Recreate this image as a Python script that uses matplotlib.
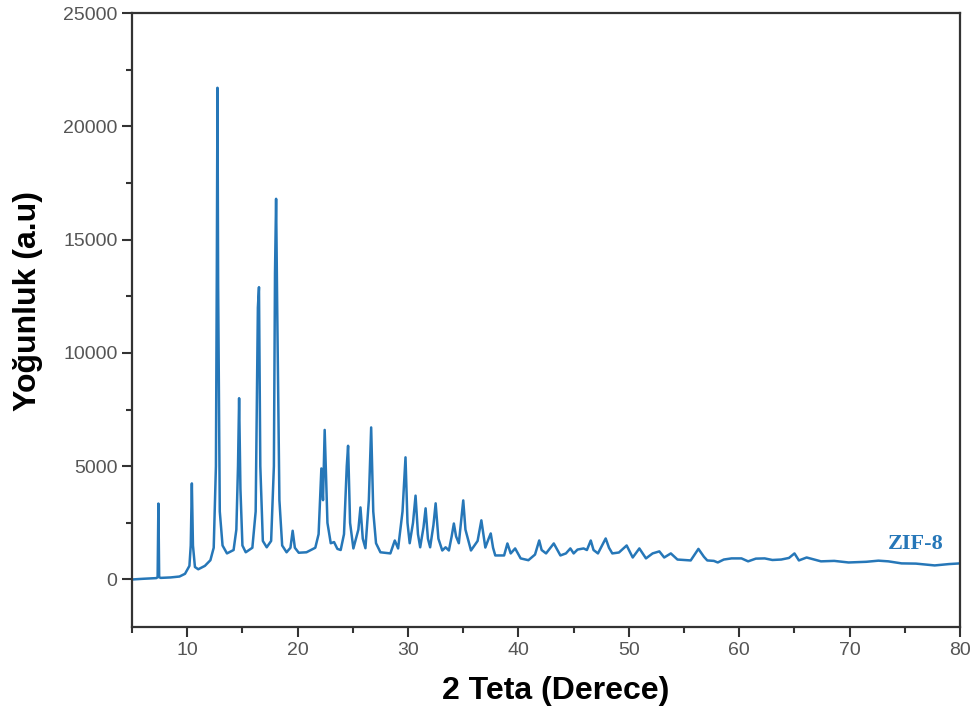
import matplotlib
matplotlib.use("Agg")
import matplotlib.pyplot as plt
from matplotlib.ticker import MultipleLocator

# XRD verisi (ZIF-8), grafikten okunan noktalar
two_theta = [5.0, 6.0, 7.2, 7.32, 7.39, 7.46, 7.6, 8.5, 9.3, 9.8, 10.2, 10.32, 10.42, 10.52, 10.7,
             11.0, 11.6, 12.1, 12.4, 12.6, 12.68, 12.74, 12.80, 12.95, 13.2, 13.6, 14.2, 14.45, 14.6,
             14.7, 14.82, 15.0, 15.3, 15.9, 16.2, 16.4, 16.5, 16.62, 16.85, 17.2, 17.6, 17.85, 17.95,
             18.05, 18.15, 18.35, 18.6, 19.0, 19.35, 19.55, 19.75, 20.1, 20.8, 21.6, 21.9, 22.15, 22.3,
             22.45, 22.7, 23.0, 23.3, 23.6, 23.9, 24.2, 24.45, 24.57, 24.75, 25.05, 25.5, 25.69, 25.9,
             26.14, 26.45, 26.66, 26.85, 27.1, 27.5, 28.4, 28.8, 29.1, 29.5, 29.77, 29.95, 30.15, 30.45,
             30.68, 30.9, 31.1, 31.4, 31.59, 31.8, 32.0, 32.3, 32.5, 32.75, 33.1, 33.4, 33.7, 33.95,
             34.15, 34.35, 34.6, 34.85, 35.0, 35.2, 35.7, 36.3, 36.64, 36.85, 37.0, 37.3, 37.49, 37.7,
             37.9, 38.7, 39.0, 39.3, 39.7, 40.2, 40.9, 41.5, 41.88, 42.1, 42.5, 43.2, 43.8, 44.3, 44.7,
             45.0, 45.35, 45.9, 46.2, 46.55, 46.8, 47.2, 47.9, 48.2, 48.5, 49.1, 49.8, 50.35, 50.95,
             51.55, 52.15, 52.76, 53.2, 53.8, 54.4, 55.6, 56.3, 56.8, 57.1, 57.7, 58.05, 58.6, 59.3,
             60.2, 60.8, 61.5, 62.3, 63.0, 63.8, 64.5, 65.0, 65.4, 66.1, 67.4, 68.6, 69.9, 71.5, 72.6,
             73.5, 74.7, 76.0, 77.7, 79.0, 80.0]
intensity = [0, 30, 60, 100, 3350, 100, 70, 90, 130, 250, 600, 1500, 4240, 1500, 550,
             450, 600, 850, 1400, 5000, 13500, 21700, 13000, 3000, 1500, 1150, 1300, 2200, 5000,
             8000, 4000, 1500, 1200, 1400, 3000, 12000, 12900, 5000, 1700, 1420, 1700, 5000, 13500,
             16800, 12000, 3500, 1500, 1200, 1400, 2150, 1400, 1180, 1200, 1400, 2000, 4900, 3500,
             6600, 2500, 1600, 1650, 1350, 1300, 2000, 5000, 5900, 2500, 1370, 2200, 3180, 1800,
             1380, 3500, 6710, 3000, 1600, 1200, 1150, 1720, 1370, 3000, 5390, 2500, 1600, 2500,
             3700, 2000, 1420, 2300, 3140, 1800, 1420, 2400, 3360, 1800, 1280, 1420, 1280, 1900,
             2470, 1900, 1600, 2800, 3490, 2200, 1280, 1700, 2610, 1900, 1410, 1800, 2030, 1400,
             1060, 1060, 1590, 1150, 1370, 930, 850, 1100, 1720, 1300, 1150, 1590, 1060, 1150, 1370,
             1150, 1320, 1370, 1300, 1720, 1300, 1150, 1810, 1400, 1150, 1190, 1500, 970, 1370,
             930, 1150, 1240, 970, 1150, 880, 840, 1350, 1000, 840, 820, 750, 880, 930,
             930, 800, 920, 930, 860, 880, 950, 1150, 840, 970, 800, 820, 750, 780, 830,
             800, 710, 700, 620, 680, 710]

sample_name = "ZIF-8"
line_color = "#2677b8"

plt.rcParams['font.family'] = ['Liberation Sans', 'DejaVu Sans']

fig = plt.figure(figsize=(9.8, 7.15), dpi=100)
ax = fig.add_axes([0.1347, 0.123, 0.845, 0.8588])

ax.plot(two_theta, intensity, color=line_color, linewidth=1.8)

ax.text(76.0, 1570, sample_name, color=line_color, fontsize=16, fontweight="bold",
        family=["Liberation Serif", "DejaVu Serif"], ha="center", va="center")

ax.set_xlim(5, 80)
ax.set_ylim(-2100, 25000)
ax.xaxis.set_major_locator(MultipleLocator(10))
ax.xaxis.set_minor_locator(MultipleLocator(5))
ax.yaxis.set_major_locator(MultipleLocator(5000))
ax.yaxis.set_minor_locator(MultipleLocator(2500))

ax.tick_params(which="major", direction="out", length=7, width=1.5, colors="#333333",
               labelsize=14, labelcolor="#555555")
ax.tick_params(which="minor", direction="out", length=4, width=1.5, colors="#333333")
for sp in ax.spines.values():
    sp.set_linewidth(1.6)
    sp.set_color("#333333")

ax.set_xlabel("2 Teta (Derece)", fontsize=23, fontweight="bold")
ax.set_ylabel("Yoğunluk (a.u)", fontsize=23, fontweight="bold")
ax.xaxis.set_label_coords(0.512, -0.08)
ax.yaxis.set_label_coords(-0.108, 0.531)

fig.savefig("out.png", dpi=100)
